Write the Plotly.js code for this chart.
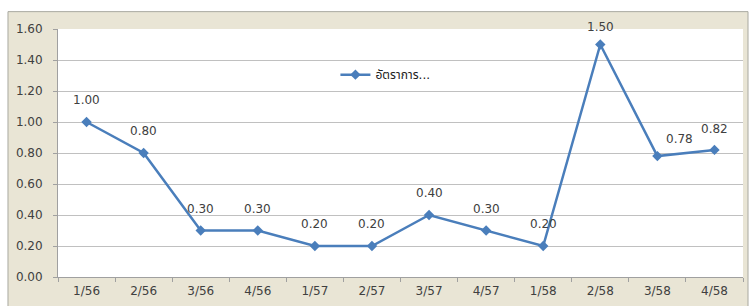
<!DOCTYPE html>
<html>
<head>
<meta charset="utf-8">
<script src="https://cdn.plot.ly/plotly-3.0.1.min.js"></script>
<style>html,body{margin:0;padding:0;background:#fff}#chart{width:752px;height:306px}</style>
</head>
<body>
<div id="chart"></div>
<script>
const categories = ['1/56','2/56','3/56','4/56','1/57','2/57','3/57','4/57','1/58','2/58','3/58','4/58'];
const values = [1.00, 0.80, 0.30, 0.30, 0.20, 0.20, 0.40, 0.30, 0.20, 1.50, 0.78, 0.82];
const labels = ['1.00','0.80','0.30','0.30','0.20','0.20','0.40','0.30','0.20','1.50','0.78','0.82'];
const seriesName = 'อัตราการ...';
const yTicks = [0, 0.2, 0.4, 0.6, 0.8, 1.0, 1.2, 1.4, 1.6];
const yTickText = ['0.00','0.20','0.40','0.60','0.80','1.00','1.20','1.40','1.60'];

const FONT = 'DejaVu Sans, Noto Sans Thai, Noto Sans, sans-serif';
const blue = '#4A7EBB';

const shifts = categories.map(function(c, i){
  if (i === 10) return {x: 22, y: 17};
  if (i === 11) return {x: 0, y: 21};
  if (i === 9) return {x: 0, y: 18};
  return {x: 0, y: 22};
});

const annotations = categories.map(function(c, i){
  return {
    x: c, y: values[i], xref: 'x', yref: 'y',
    text: labels[i], showarrow: false,
    xshift: shifts[i].x, yshift: shifts[i].y,
    font: {family: FONT, size: 12, color: '#404040'}
  };
});

const trace = {
  x: categories, y: values, name: seriesName,
  type: 'scatter', mode: 'lines+markers',
  line: {color: blue, width: 2.5},
  marker: {symbol: 'diamond', size: 8, color: blue},
  cliponaxis: false,
  showlegend: true
};

const layout = {
  width: 752, height: 306,
  margin: {l: 58, r: 9, t: 29, b: 29},
  paper_bgcolor: '#ffffff',
  plot_bgcolor: '#ffffff',
  font: {family: FONT, size: 12, color: '#404040'},
  showlegend: true,
  legend: {
    x: 0.405, y: 0.816, xanchor: 'left', yanchor: 'middle',
    bgcolor: 'rgba(0,0,0,0)',
    font: {family: FONT, size: 12, color: '#202020'}
  },
  xaxis: {
    type: 'category',
    range: [-0.5, 11.5],
    showgrid: false,
    showline: true, linecolor: '#A0A0A0', linewidth: 1,
    ticks: 'outside', tickson: 'boundaries', ticklen: 4, tickcolor: '#A0A0A0',
    ticklabelstandoff: 3,
    tickfont: {family: FONT, size: 12, color: '#404040'},
    zeroline: false, fixedrange: true
  },
  yaxis: {
    range: [0, 1.6],
    tickvals: yTicks, ticktext: yTickText,
    showgrid: true, gridcolor: '#C0C0C0', gridwidth: 1,
    showline: true, linecolor: '#A0A0A0', linewidth: 1,
    ticks: 'outside', ticklen: 4, tickcolor: '#A0A0A0',
    ticklabelstandoff: 8,
    tickfont: {family: FONT, size: 12, color: '#404040'},
    zeroline: false, fixedrange: true
  },
  shapes: [{
    type: 'rect', xref: 'paper', yref: 'paper', layer: 'below',
    x0: -0.073, x1: 1.0073, y0: -0.12, y1: 1.07,
    fillcolor: '#E9E5D5', line: {color: '#A8A8A0', width: 1}
  }, {
    type: 'rect', xref: 'paper', yref: 'paper', layer: 'below',
    x0: 0, x1: 1, y0: 0, y1: 1,
    fillcolor: '#ffffff', line: {width: 0}
  }],
  annotations: annotations
};

Plotly.newPlot('chart', [trace], layout, {displayModeBar: false, staticPlot: true});
</script>
</body>
</html>
